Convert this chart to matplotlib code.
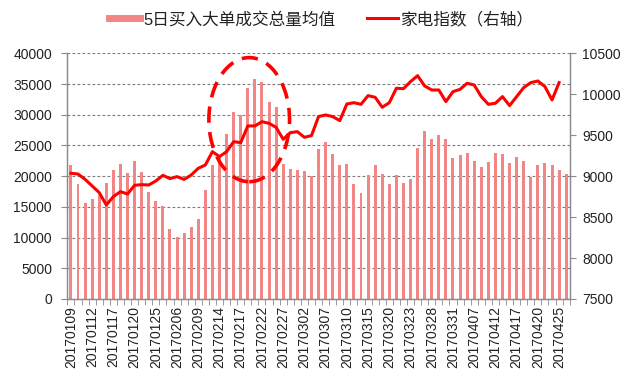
import numpy as np
import matplotlib
matplotlib.use("Agg")
import matplotlib.pyplot as plt
from matplotlib.lines import Line2D
from matplotlib.patches import Ellipse

plt.rcParams['font.family'] = ['Liberation Sans', 'Noto Sans CJK SC']

# trading days, Jan - Apr 2017
dates = ['20170109', '20170110', '20170111', '20170112', '20170113',
         '20170116', '20170117', '20170118', '20170119', '20170120',
         '20170123', '20170124', '20170125', '20170126', '20170203',
         '20170206', '20170207', '20170208', '20170209', '20170210',
         '20170213', '20170214', '20170215', '20170216', '20170217',
         '20170220', '20170221', '20170222', '20170223', '20170224',
         '20170227', '20170228', '20170301', '20170302', '20170303',
         '20170306', '20170307', '20170308', '20170309', '20170310',
         '20170313', '20170314', '20170315', '20170316', '20170317',
         '20170320', '20170321', '20170322', '20170323', '20170324',
         '20170327', '20170328', '20170329', '20170330', '20170331',
         '20170405', '20170406', '20170407', '20170410', '20170411',
         '20170412', '20170413', '20170414', '20170417', '20170418',
         '20170419', '20170420', '20170421', '20170424', '20170425',
         '20170426']

# 5日买入大单成交总量均值 (left axis)
big_orders = [21800, 18650, 15560, 16320, 17000, 18930, 20990, 22020, 20500, 22400,
              20660, 17410, 15940, 15130, 11340, 10030, 10680, 11770, 13020, 17730,
              21800, 23430, 26790, 30370, 29940, 34380, 35790, 35250, 32050, 31180,
              22000, 21150, 20990, 20830, 20010, 24350, 25490, 23540, 21800, 22020,
              18710, 17190, 20120, 21800, 20390, 18710, 20120, 18820, 19520, 24510,
              27330, 26030, 26680, 25980, 22890, 23430, 23700, 22510, 21530, 22230,
              23700, 23590, 22180, 23040, 22450, 19900, 21800, 22180, 21800, 20990,
              20280]

# 家电指数 (right axis), last day missing
index_vals = [9035, 9026, 8961, 8880, 8799, 8648, 8750, 8811, 8782, 8888,
              8896, 8892, 8941, 9010, 8970, 8994, 8960, 9014, 9096, 9136,
              9299, 9238, 9299, 9421, 9409, 9613, 9613, 9665, 9645, 9596,
              9450, 9531, 9543, 9474, 9495, 9727, 9747, 9727, 9678, 9881,
              9897, 9877, 9983, 9963, 9841, 9897, 10073, 10068, 10154, 10227,
              10101, 10052, 10052, 9910, 10032, 10060, 10134, 10113, 9971, 9877,
              9890, 9971, 9861, 9971, 10081, 10142, 10162, 10093, 9930, 10142,
              np.nan]

BAR_COLOR = '#F28686'
LINE_COLOR = '#FF0000'
TEXT_COLOR = '#222222'
SPINE_COLOR = '#8C8C8C'

# highlight ellipse (category units / right axis units)
ELLIPSE_CENTER = (25.2, 9690)
ELLIPSE_SIZE = (11.4, 1515)


def style_axis(ax):
    for side in ['top']:
        ax.spines[side].set_visible(False)
    for side in ['left', 'right', 'bottom']:
        ax.spines[side].set_color(SPINE_COLOR)
        ax.spines[side].set_linewidth(0.9)


def main():
    assert len(dates) == len(big_orders) == len(index_vals)
    x = np.arange(len(dates))

    fig = plt.figure(figsize=(6.24, 3.84), dpi=100)
    ax = fig.add_axes([0.108, 0.2214, 0.805, 0.6398])
    ax.bar(x, big_orders, width=0.42, color=BAR_COLOR, zorder=2)
    ax.set_xlim(-0.5, len(dates) - 0.5)
    ax.set_ylim(0, 40000)
    ax.set_yticks(range(0, 40001, 5000))
    ax.yaxis.grid(True, linestyle=(0, (2.5, 2)), color='#7a7a7a', linewidth=0.8, zorder=1)
    ax.set_axisbelow(True)

    ax.set_xticks(x[::3])
    ax.set_xticklabels([dates[i] for i in x[::3]], rotation=90)
    ax.set_xticks(np.arange(-0.5, len(dates), 1), minor=True)
    ax.tick_params(axis='x', which='major', length=0, pad=5, labelsize=10, labelcolor=TEXT_COLOR)
    ax.tick_params(axis='x', which='minor', length=4, color=SPINE_COLOR, direction='out')
    ax.tick_params(axis='y', length=4, color=SPINE_COLOR, pad=7, labelsize=10, labelcolor=TEXT_COLOR)
    style_axis(ax)

    ax2 = ax.twinx()
    ax2.plot(x, index_vals, color=LINE_COLOR, linewidth=2.2, zorder=3)
    ax2.set_ylim(7500, 10500)
    ax2.set_yticks(range(7500, 10501, 500))
    ax2.tick_params(axis='y', length=4, color=SPINE_COLOR, pad=5, labelsize=10, labelcolor=TEXT_COLOR)
    style_axis(ax2)

    ell = Ellipse(ELLIPSE_CENTER, ELLIPSE_SIZE[0], ELLIPSE_SIZE[1], fill=False,
                  edgecolor=LINE_COLOR, linewidth=2.6, linestyle=(0, (4.5, 2.6)), zorder=4)
    ax2.add_patch(ell)

    handles = [Line2D([], [], color=BAR_COLOR, linewidth=5),
               Line2D([], [], color=LINE_COLOR, linewidth=2.2)]
    labels = ['5日买入大单成交总量均值', '家电指数（右轴）']
    fig.legend(handles, labels, loc='center', bbox_to_anchor=(0.515, 0.95), ncol=2,
               frameon=False, fontsize=12, handlelength=1.9, handletextpad=0.15,
               columnspacing=1.9, labelcolor=TEXT_COLOR)

    fig.savefig('out.png', dpi=100, facecolor='white')


if __name__ == "__main__":
    main()
